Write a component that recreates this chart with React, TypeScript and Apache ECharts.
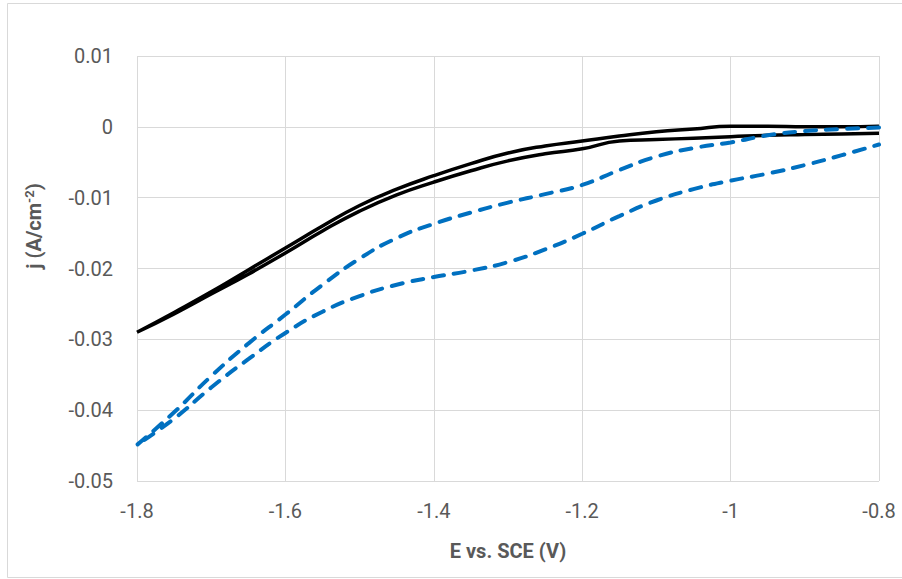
import React, { useEffect, useRef } from "react";
import * as echarts from "echarts";

// Potentials (V vs. SCE) at which the curves were read
const potentials = [-1.8, -1.75, -1.7, -1.65, -1.6, -1.55, -1.5, -1.45, -1.4, -1.35, -1.3, -1.25, -1.2, -1.15, -1.1, -1.05, -1.0, -0.95, -0.9, -0.85, -0.8];

// Black (solid) CV loop: upper and lower branches, current density in A/cm^2
const blackUpper = [-0.029, -0.0262, -0.0233, -0.0202, -0.0171, -0.014, -0.0111, -0.0088, -0.0069, -0.0052, -0.0037, -0.0027, -0.002, -0.0013, -0.0007, -0.0003, 0.0001, 0.0001, 0.0, 0.0, 0.0001];
const blackLower = [-0.029, -0.0264, -0.0236, -0.0208, -0.0178, -0.0147, -0.0119, -0.0096, -0.0078, -0.0062, -0.0048, -0.0038, -0.0031, -0.002, -0.0018, -0.0016, -0.0014, -0.0012, -0.0011, -0.001, -0.0009];

// Blue (dashed) CV loop
const blueUpper = [-0.0449, -0.0403, -0.0352, -0.0306, -0.0265, -0.0223, -0.0186, -0.0157, -0.0137, -0.0121, -0.0107, -0.0095, -0.0082, -0.0061, -0.0042, -0.003, -0.0022, -0.0012, -0.0006, -0.0003, -0.0001];
const blueLower = [-0.0449, -0.0412, -0.0368, -0.0328, -0.0291, -0.0261, -0.0239, -0.0223, -0.0212, -0.0203, -0.0191, -0.0173, -0.0151, -0.0126, -0.0104, -0.0088, -0.0076, -0.0066, -0.0054, -0.004, -0.0025];

// Axis settings
const xMin = -1.8;
const xMax = -0.8;
const xStep = 0.2;
const yMin = -0.05;
const yMax = 0.01;
const yStep = 0.01;

const xTitle = "E vs. SCE (V)";

function loop(upper: number[], lower: number[]): number[][] {
  const pts: number[][] = [];
  for (let i = potentials.length - 1; i >= 0; i--) pts.push([potentials[i], upper[i]]);
  for (let i = 0; i < potentials.length; i++) pts.push([potentials[i], lower[i]]);
  return pts;
}

const FONT = "Roboto, 'Liberation Sans', sans-serif";

export default function App() {
  const ref = useRef<HTMLDivElement>(null);
  useEffect(() => {
    if (!ref.current) return;
    const chart = echarts.init(ref.current, undefined, { renderer: "svg" });
    chart.setOption({
      animation: false,
      backgroundColor: "#ffffff",
      grid: { left: 137, right: 23, top: 56, bottom: 98, containLabel: false },
      xAxis: {
        type: "value",
        min: xMin,
        max: xMax,
        interval: xStep,
        axisLine: { show: false, onZero: false },
        axisTick: { show: false },
        splitLine: { show: true, lineStyle: { color: "#d9d9d9", width: 1 } },
        axisLabel: {
          margin: 20,
          color: "#595959",
          fontFamily: FONT,
          fontSize: 20,
          formatter: (v: number) => String(Math.round(v * 10) / 10),
        },
      },
      yAxis: {
        type: "value",
        min: yMin,
        max: yMax,
        interval: yStep,
        axisLine: { show: false },
        axisTick: { show: false },
        splitLine: { show: true, lineStyle: { color: "#d9d9d9", width: 1 } },
        axisLabel: {
          margin: 24,
          color: "#595959",
          fontFamily: FONT,
          fontSize: 20,
          formatter: (v: number) => String(Math.round(v * 100) / 100),
        },
      },
      graphic: [
        {
          type: "rect",
          silent: true,
          shape: { x: 7.5, y: 3.5, width: 910, height: 574 },
          style: { fill: "none", stroke: "#d9d9d9", lineWidth: 1 },
        },
        {
          type: "text",
          x: 508,
          y: 551,
          style: {
            text: xTitle,
            fill: "#595959",
            font: `bold 20px ${FONT}`,
            textAlign: "center",
            textVerticalAlign: "middle",
          },
        },
        {
          type: "text",
          x: 34,
          y: 226,
          rotation: Math.PI / 2,
          style: {
            text: "{b|j (A/cm}{s|-2}{b|)}",
            textAlign: "center",
            textVerticalAlign: "middle",
            rich: {
              b: { fontFamily: FONT, fontWeight: "bold", fontSize: 20, fill: "#595959" },
              s: { fontFamily: FONT, fontWeight: "bold", fontSize: 13, fill: "#595959", verticalAlign: "top", padding: [0, 0, 10, 0] },
            },
          },
        },
      ],
      series: [
        {
          type: "line",
          name: "black",
          data: loop(blackUpper, blackLower),
          showSymbol: false,
          symbol: "none",
          smooth: 0.5,
          lineStyle: { color: "#000000", width: 3.5 },
          z: 3,
        },
        {
          type: "line",
          name: "blue",
          data: loop(blueUpper, blueLower),
          showSymbol: false,
          symbol: "none",
          smooth: 0.5,
          lineStyle: { color: "#0070C0", width: 4, type: [11, 10], cap: "round" },
          z: 4,
        },
      ],
    });
    return () => chart.dispose();
  }, []);
  return (
    <div
      ref={ref}
      style={{ position: "absolute", left: 0, top: 0, width: 902, height: 579 }}
    />
  );
}
